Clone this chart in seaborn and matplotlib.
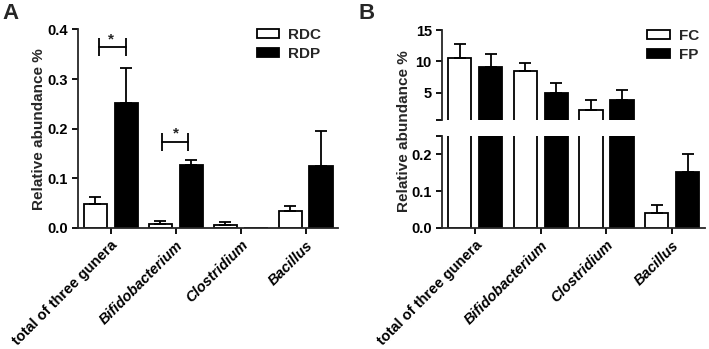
import matplotlib
matplotlib.use("Agg")
import matplotlib.pyplot as plt
import numpy as np
import pandas as pd
import seaborn as sns

sns.set_theme(style="ticks")
plt.rcParams.update({
    "font.family": ["Liberation Sans", "DejaVu Sans"],
    "font.weight": "bold",
    "axes.linewidth": 1.3,
    "xtick.major.width": 1.3,
    "ytick.major.width": 1.3,
    "ytick.minor.width": 1.3,
    "xtick.major.size": 4,
    "ytick.major.size": 4,
    "ytick.minor.size": 4,
    "xtick.color": "black",
    "ytick.color": "black",
})

GENERA = ["total of three gunera", "Bifidobacterium", "Clostridium", "Bacillus"]

# panel A (mean and SEM)
RDC = [0.048, 0.007, 0.005, 0.033]
RDC_SEM = [0.013, 0.006, 0.006, 0.010]
RDP = [0.252, 0.127, 0.0, 0.125]
RDP_SEM = [0.071, 0.010, np.nan, 0.070]

# significance brackets in panel A
SIG_GROUP = [0, 1]
SIG_Y = [0.364, 0.1735]
SIG_SPAN = [(-0.185, 0.23), (-0.215, 0.185)]

# panel B
FC = [10.6, 8.4, 2.3, 0.039]
FC_SEM = [2.1, 1.3, 1.5, 0.022]
FP = [9.1, 5.0, 3.8, 0.153]
FP_SEM = [2.1, 1.5, 1.6, 0.049]

TICK_FS = 10.5
LABEL_FS = 11


def long_df(names, values, sems):
    rows = []
    for name, vals, errs in zip(names, values, sems):
        for genus, v, e in zip(GENERA, vals, errs):
            rows.append({"genus": genus, "group": name, "value": v, "sem": e})
    return pd.DataFrame(rows)


def draw_bars(ax, df, palette, legend):
    sns.barplot(
        data=df, x="genus", y="value", hue="group", order=GENERA,
        hue_order=list(palette), palette=palette, saturation=1,
        width=0.95, gap=0.25, edgecolor="black", linewidth=1.3,
        errorbar=None, legend=legend, ax=ax,
    )
    bar_conts = list(ax.containers)[:len(palette)]
    for cont, grp in zip(bar_conts, palette):
        sems = df[df["group"] == grp].set_index("genus").loc[GENERA, "sem"]
        for bar, s in zip(cont, sems):
            if np.isnan(s):
                continue
            x = bar.get_x() + bar.get_width() / 2
            h = bar.get_height()
            ax.errorbar(x, h, yerr=[[0], [s]], color="black", capsize=4,
                        elinewidth=1.3, capthick=1.3, zorder=1)
    ax.set_xlabel("")
    ax.set_ylabel("")
    ax.set_xlim(-0.5, 3.5)
    sns.despine(ax=ax)


def style_xticks(ax):
    ax.set_xticks(range(len(GENERA)))
    ax.set_xticklabels(GENERA, rotation=45, ha="right", rotation_mode="anchor",
                       fontsize=10.5, fontweight="bold")
    for i, lab in enumerate(ax.get_xticklabels()):
        if i > 0:
            lab.set_fontstyle("italic")


def fix_legend(ax, anchor):
    sns.move_legend(ax, "upper right", bbox_to_anchor=anchor, frameon=False,
                    title=None, fontsize=11, handlelength=1.45,
                    handleheight=0.55, labelspacing=0.35, handletextpad=0.6,
                    borderaxespad=0)


fig = plt.figure(figsize=(7.09, 3.49), dpi=100)
ax_a = fig.add_axes([0.1104, 0.3476, 0.3663, 0.5679])
ax_bt = fig.add_axes([0.6238, 0.6562, 0.3706, 0.2578])
ax_bb = fig.add_axes([0.6238, 0.3476, 0.3706, 0.2627])

# ---- panel A
df_a = long_df(["RDC", "RDP"], [RDC, RDP], [RDC_SEM, RDP_SEM])
draw_bars(ax_a, df_a, {"RDC": "white", "RDP": "black"}, True)
ax_a.set_ylim(0, 0.4)
ax_a.set_yticks([0, 0.1, 0.2, 0.3, 0.4])
ax_a.set_yticklabels([f"{v:.1f}" for v in ax_a.get_yticks()], fontsize=TICK_FS)
style_xticks(ax_a)
fix_legend(ax_a, (0.96, 1.04))

for g, y, (lo, hi) in zip(SIG_GROUP, SIG_Y, SIG_SPAN):
    ax_a.plot([g + lo, g + hi], [y, y], color="black", lw=1.3)
    ax_a.vlines([g + lo, g + hi], y - 0.018, y + 0.018, color="black", lw=1.3)
    ax_a.text(g, y + 0.002, "*", ha="center", va="bottom", fontsize=11)

# ---- panel B (broken y axis)
df_b = long_df(["FC", "FP"], [FC, FP], [FC_SEM, FP_SEM])
pal_b = {"FC": "white", "FP": "black"}
draw_bars(ax_bt, df_b, pal_b, True)
draw_bars(ax_bb, df_b, pal_b, False)

ax_bt.set_ylim(0.65, 15)
ax_bt.set_yticks([5, 10, 15])
ax_bt.set_yticklabels(["5", "10", "15"], fontsize=TICK_FS)
ax_bt.set_yticks([0.65], minor=True)
ax_bt.spines["bottom"].set_visible(False)
ax_bt.tick_params(axis="x", which="both", bottom=False, labelbottom=False)
fix_legend(ax_bt, (1.0, 1.08))

ax_bb.set_ylim(0, 0.25)
ax_bb.set_yticks([0, 0.1, 0.2])
ax_bb.set_yticklabels(["0.0", "0.1", "0.2"], fontsize=TICK_FS)
ax_bb.set_yticks([0.25], minor=True)
style_xticks(ax_bb)

fig.text(39 / 709, 1 - 129 / 349, "Relative abundance %", rotation=90,
         ha="center", va="center", fontsize=LABEL_FS, fontweight="bold")
fig.text(404 / 709, 1 - 131 / 349, "Relative abundance %", rotation=90,
         ha="center", va="center", fontsize=LABEL_FS, fontweight="bold")

fig.text(2 / 709, 1 - 3 / 349, "A", ha="left", va="top", fontsize=16, fontweight="bold")
fig.text(358 / 709, 1 - 3 / 349, "B", ha="left", va="top", fontsize=16, fontweight="bold")

fig.savefig("out.png", dpi=100)
